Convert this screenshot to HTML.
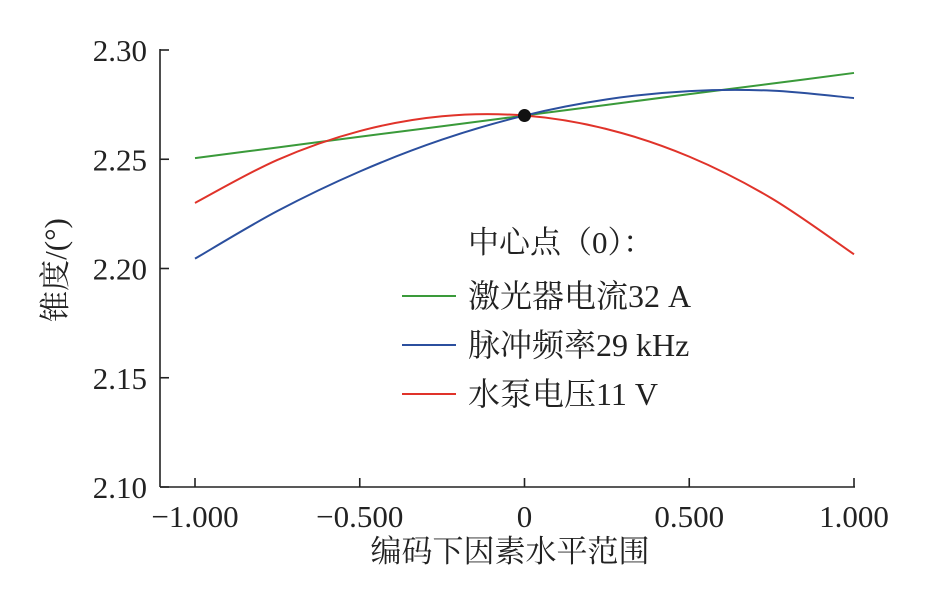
<!DOCTYPE html>
<html><head><meta charset="utf-8">
<style>
html,body{margin:0;padding:0;background:#fff;}
svg text{font-family:"Liberation Serif","Noto Serif CJK SC","Noto Sans CJK SC",serif;fill:#222;}
</style></head>
<body>
<svg id="chart" width="939" height="585" viewBox="0 0 939 585" xmlns="http://www.w3.org/2000/svg">
<g id="axes"></g>
<g id="series"></g>
<g id="legend"></g>
</svg>
<script>
const xValues=[-1,-0.75,-0.5,-0.25,0,0.25,0.5,0.75,1];
const greenValues=[2.2505,2.2554,2.2603,2.2651,2.270,2.2749,2.2798,2.2846,2.2895];
const blueValues=[2.2045,2.2263,2.2444,2.2590,2.270,2.2774,2.2812,2.2814,2.278];
const redValues=[2.230,2.2497,2.2629,2.2697,2.270,2.2638,2.2512,2.2321,2.2065];
const yTicks=[2.10,2.15,2.20,2.25,2.30];
const yTickLabels=["2.10","2.15","2.20","2.25","2.30"];
const xTicks=[-1,-0.5,0,0.5,1];
const xTickLabels=["−1.000","−0.500","0","0.500","1.000"];
const seriesNames=["激光器电流32 A","脉冲频率29 kHz","水泵电压11 V"];
const centerPoint=[0,2.270];

const NS="http://www.w3.org/2000/svg";
const X0=160,X1=855,Y0=487,Y1=50;
function sx(v){return 195+(v+1)/2*659;}
function sy(v){return 487-(v-2.10)/0.20*437;}
function mk(tag,attrs,parent,txt){const e=document.createElementNS(NS,tag);for(const k in attrs)e.setAttribute(k,attrs[k]);if(txt!==undefined)e.textContent=txt;parent.appendChild(e);return e;}
const axes=document.getElementById('axes');
let l=mk('line',{x1:X0,y1:Y0,x2:X0,y2:Y1-1,stroke:'#222','stroke-width':1.6},axes);


l=mk('line',{x1:X0,y1:Y0,x2:X1,y2:Y0,stroke:'#222','stroke-width':1.6},axes);


yTicks.forEach((v,i)=>{
  const t=mk('line',{x1:X0,y1:sy(v),x2:X0+9,y2:sy(v),stroke:'#222','stroke-width':1.6},axes);
  
  
  const tx=mk('text',{x:X0-13,y:sy(v)+11,'text-anchor':'end','font-size':31},axes,yTickLabels[i]);
  
  
});
xTicks.forEach((v,i)=>{
  const t=mk('line',{x1:sx(v),y1:Y0,x2:sx(v),y2:Y0-9,stroke:'#222','stroke-width':1.6},axes);
  
  
  const tx=mk('text',{x:sx(v),y:Y0+40,'text-anchor':'middle','font-size':31},axes,xTickLabels[i]);
  
  
});
let yt=mk('text',{x:0,y:0,'text-anchor':'middle','font-size':31,transform:'translate(66,270) rotate(-90)'},axes,'锥度/(°)');


let xt=mk('text',{x:510,y:562,'text-anchor':'middle','font-size':31},axes,'编码下因素水平范围');



function pathFor(vals){
  const p=xValues.map((x,i)=>[sx(x),sy(vals[i])]);
  let d='M'+p[0][0]+','+p[0][1];
  for(let i=0;i<p.length-1;i++){
    const p0=p[Math.max(0,i-1)],p1=p[i],p2=p[i+1],p3=p[Math.min(p.length-1,i+2)];
    const c1=[p1[0]+(p2[0]-p0[0])/6,p1[1]+(p2[1]-p0[1])/6];
    const c2=[p2[0]-(p3[0]-p1[0])/6,p2[1]-(p3[1]-p1[1])/6];
    d+=' C'+c1+' '+c2+' '+p2;
  }
  return d;
}
const series=document.getElementById('series');
const colors=['#3a9a3a','#2b4f9e','#e0332a'];
const data=[greenValues,blueValues,redValues];
const names=['green-series-line','blue-series-line','red-series-line'];
data.forEach((vals,i)=>{
  const p=mk('path',{d:pathFor(vals),fill:'none',stroke:colors[i],'stroke-width':2},series);
  
  
});
const c=mk('circle',{cx:sx(centerPoint[0]),cy:sy(centerPoint[1]),r:6.5,fill:'#111'},series);



const legend=document.getElementById('legend');
const lt=mk('text',{x:468,y:253,'font-size':31},legend,'中心点（0）：');


seriesNames.forEach((n,i)=>{
  const y=296+i*49;
  const ln=mk('line',{x1:402,y1:y,x2:456,y2:y,stroke:colors[i],'stroke-width':2},legend);
  
  
  const t=mk('text',{x:468,y:y+11,'font-size':32},legend,n);
  
  
});
</script>
</body></html>
